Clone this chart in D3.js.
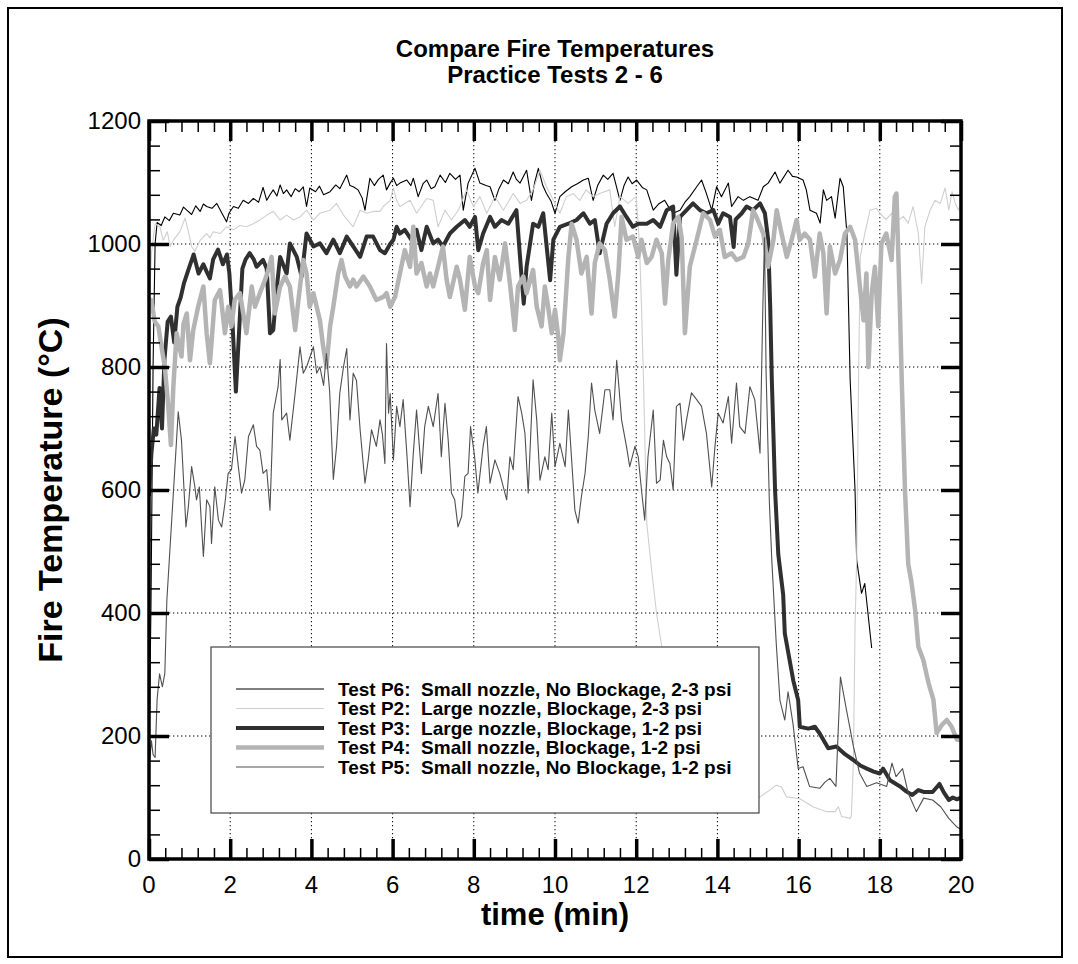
<!DOCTYPE html>
<html>
<head>
<meta charset="utf-8">
<script src="https://cdn.jsdelivr.net/npm/d3@7"></script>
<style>
  body { margin: 0; background: #fff; }
  text { font-family: "Liberation Sans", Arial, Helvetica, sans-serif; }
</style>
</head>
<body>
<div id="chart"></div>
<script>
// ---- data: [time (min), temperature (°C)] ----
var p6 = [[0,160],[0.05,420],[0.1,800],[0.15,1000],[0.2,1035],[0.3,1030],[0.39,1044],[0.5,1038],[0.6,1050],[0.76,1047],[0.85,1060],[0.93,1055],[1.05,1048],[1.15,1062],[1.26,1053],[1.34,1065],[1.42,1061],[1.55,1058],[1.67,1066],[1.78,1052],[1.91,1036],[1.97,1050],[2.08,1061],[2.2,1058],[2.32,1071],[2.45,1066],[2.57,1074],[2.7,1068],[2.81,1092],[2.9,1071],[2.98,1080],[3.06,1088],[3.15,1078],[3.23,1096],[3.31,1082],[3.39,1088],[3.5,1077],[3.6,1090],[3.7,1085],[3.8,1093],[3.88,1061],[3.96,1091],[4.1,1085],[4.2,1094],[4.3,1080],[4.46,1085],[4.6,1096],[4.7,1090],[4.87,1112],[4.95,1095],[5.03,1093],[5.15,1088],[5.25,1075],[5.32,1055],[5.44,1107],[5.55,1095],[5.65,1105],[5.77,1112],[5.85,1088],[5.94,1099],[6.02,1107],[6.1,1095],[6.18,1099],[6.35,1104],[6.45,1095],[6.51,1107],[6.63,1077],[6.75,1098],[6.84,1104],[6.95,1090],[7.04,1093],[7.17,1112],[7.3,1100],[7.41,1115],[7.55,1105],[7.66,1112],[7.74,1055],[7.86,1099],[8.03,1123],[8.15,1099],[8.3,1095],[8.4,1093],[8.52,1071],[8.62,1090],[8.73,1104],[8.85,1098],[8.97,1117],[9.05,1105],[9.14,1099],[9.3,1120],[9.42,1071],[9.5,1100],[9.59,1123],[9.7,1095],[9.79,1082],[9.9,1070],[10.0,1050],[10.12,1077],[10.25,1085],[10.41,1093],[10.55,1098],[10.7,1104],[10.82,1107],[10.94,1071],[11.05,1095],[11.19,1112],[11.3,1105],[11.43,1115],[11.6,1071],[11.7,1095],[11.8,1109],[11.9,1098],[12.01,1104],[12.15,1092],[12.26,1088],[12.42,1055],[12.55,1065],[12.7,1071],[12.8,1060],[12.91,1050],[13.08,1055],[13.2,1068],[13.32,1077],[13.49,1093],[13.61,1104],[13.73,1082],[13.86,1055],[13.98,1093],[14.1,1077],[14.27,1099],[14.35,1061],[14.51,1077],[14.64,1071],[14.8,1077],[15.0,1071],[15.13,1093],[15.25,1099],[15.42,1117],[15.54,1099],[15.74,1120],[15.85,1110],[15.95,1109],[16.11,1104],[16.19,1088],[16.28,1055],[16.44,1050],[16.53,1034],[16.61,1088],[16.69,1071],[16.81,1077],[16.9,1042],[17.02,1107],[17.1,1093],[17.19,1017],[17.27,779],[17.39,600],[17.43,486],[17.55,432],[17.63,448],[17.8,343]];

var p2 = [[0,880],[0.06,985],[0.15,1033],[0.27,1028],[0.35,1006],[0.45,1020],[0.52,996],[0.6,1006],[0.76,1020],[0.89,1042],[0.97,1020],[1.05,996],[1.13,988],[1.26,1006],[1.42,1017],[1.5,1010],[1.58,1020],[1.75,1017],[1.91,1028],[2.08,1023],[2.24,1030],[2.4,1028],[2.57,1033],[2.73,1039],[2.9,1047],[3.06,1053],[3.23,1039],[3.39,1047],[3.56,1039],[3.72,1044],[3.88,1055],[4.05,1039],[4.21,1050],[4.46,1055],[4.62,1066],[4.79,1047],[5.03,1028],[5.2,1055],[5.36,1050],[5.52,1053],[5.69,1053],[5.77,1061],[5.94,1071],[6.02,1091],[6.1,1071],[6.18,1061],[6.43,1071],[6.59,1050],[6.84,1074],[7.0,1071],[7.12,1028],[7.29,1055],[7.45,1039],[7.62,1055],[7.82,1088],[7.99,1061],[8.15,1077],[8.32,1050],[8.52,1077],[8.73,1055],[8.97,1082],[9.14,1066],[9.3,1071],[9.46,1088],[9.63,1120],[9.79,1093],[9.96,1071],[10.12,1050],[10.28,1077],[10.45,1082],[10.61,1071],[10.77,1088],[10.94,1077],[11.1,1082],[11.35,1088],[11.47,1028],[11.6,1077],[11.8,1066],[12.0,1077],[12.08,1000],[12.13,900],[12.18,779],[12.26,546],[12.38,470],[12.5,400],[12.63,345],[12.8,260],[13.0,190],[13.3,140],[13.7,120],[14.2,110],[14.6,105],[15.05,101],[15.29,112],[15.45,120],[15.58,117],[15.7,101],[16.03,98],[16.35,85],[16.69,77],[16.9,77],[16.98,85],[17.06,69],[17.27,66],[17.3,70],[17.35,161],[17.39,378],[17.43,486],[17.48,800],[17.52,980],[17.63,1017],[17.76,1055],[17.92,1058],[18.0,1050],[18.15,1040],[18.3,1050],[18.45,1038],[18.58,1045],[18.7,1034],[18.82,1061],[18.95,1017],[19.03,936],[19.11,1028],[19.24,1055],[19.36,1071],[19.49,1066],[19.61,1091],[19.7,1055],[19.78,1085],[19.86,1066],[19.94,1055],[20.0,1066]];

var p3 = [[0,590],[0.06,660],[0.12,700],[0.18,690],[0.26,766],[0.32,700],[0.38,812],[0.46,874],[0.54,882],[0.62,840],[0.7,898],[0.78,913],[0.86,936],[0.98,960],[1.1,983],[1.22,952],[1.34,967],[1.42,955],[1.5,944],[1.58,975],[1.7,991],[1.82,967],[1.92,983],[1.98,952],[2.06,867],[2.14,760],[2.22,859],[2.3,960],[2.38,975],[2.48,985],[2.58,975],[2.65,963],[2.81,974],[2.9,960],[2.98,855],[3.06,860],[3.15,931],[3.23,979],[3.39,952],[3.47,1001],[3.64,979],[3.76,947],[3.88,1017],[4.05,996],[4.21,1001],[4.37,985],[4.54,1007],[4.7,985],[4.87,1012],[5.03,996],[5.2,979],[5.36,1012],[5.52,1012],[5.69,990],[5.81,985],[5.94,1000],[6.02,1007],[6.1,1028],[6.18,1017],[6.3,1023],[6.46,1007],[6.59,1023],[6.71,990],[6.84,1028],[7.0,1001],[7.12,1007],[7.24,996],[7.41,1017],[7.58,1028],[7.78,1039],[7.9,1028],[8.03,1044],[8.11,990],[8.23,1017],[8.4,1044],[8.52,1028],[8.68,1039],[8.85,1033],[9.05,1055],[9.17,952],[9.23,903],[9.3,963],[9.46,1033],[9.59,1028],[9.71,1050],[9.88,941],[9.96,1007],[10.12,1028],[10.33,1033],[10.53,1039],[10.7,1050],[10.86,1033],[10.98,1039],[11.1,985],[11.27,1033],[11.43,1050],[11.6,1061],[11.76,1044],[11.92,1028],[12.05,1033],[12.26,1033],[12.42,1039],[12.59,1028],[12.75,1055],[12.91,1061],[12.99,950],[13.08,1044],[13.24,1055],[13.4,1066],[13.57,1055],[13.73,1050],[13.9,1055],[14.02,1033],[14.14,1050],[14.31,1044],[14.4,995],[14.45,1040],[14.6,1050],[14.72,1061],[14.88,1055],[15.05,1066],[15.17,1050],[15.25,1007],[15.3,900],[15.34,780],[15.42,600],[15.5,495],[15.62,430],[15.66,367],[15.87,290],[15.99,258],[16.03,215],[16.24,212],[16.4,215],[16.52,204],[16.73,180],[16.93,183],[17.15,170],[17.35,161],[17.52,152],[17.68,147],[17.85,142],[18.0,139],[18.08,147],[18.25,128],[18.5,118],[18.65,110],[18.8,104],[18.95,112],[19.08,109],[19.3,109],[19.47,122],[19.58,108],[19.7,96],[19.8,100],[19.9,97],[20.0,100]];

var p4 = [[0,900],[0.06,909],[0.14,874],[0.23,866],[0.3,836],[0.39,800],[0.47,740],[0.54,673],[0.6,768],[0.68,855],[0.8,817],[0.85,870],[0.93,887],[1.01,811],[1.09,860],[1.21,898],[1.34,931],[1.42,855],[1.5,806],[1.62,909],[1.75,925],[1.87,855],[1.95,898],[2.03,866],[2.11,909],[2.24,920],[2.4,855],[2.53,931],[2.61,898],[2.73,920],[2.86,942],[2.94,958],[3.02,979],[3.1,887],[3.23,931],[3.35,947],[3.47,931],[3.6,860],[3.68,909],[3.8,974],[3.88,952],[3.96,898],[4.05,920],[4.13,898],[4.21,876],[4.29,833],[4.37,800],[4.46,866],[4.54,898],[4.66,952],[4.74,974],[4.83,947],[4.95,931],[5.03,942],[5.11,931],[5.28,947],[5.44,931],[5.6,909],[5.77,914],[5.85,920],[5.94,898],[6.06,914],[6.18,952],[6.3,990],[6.43,963],[6.51,1028],[6.59,952],[6.71,969],[6.84,931],[6.92,952],[7.0,931],[7.12,963],[7.24,996],[7.33,942],[7.41,914],[7.58,963],[7.66,942],[7.78,893],[7.9,979],[8.03,931],[8.11,920],[8.23,969],[8.32,990],[8.4,909],[8.52,979],[8.64,942],[8.77,1001],[8.89,936],[9.01,860],[9.09,931],[9.22,947],[9.3,920],[9.46,958],[9.55,898],[9.67,866],[9.75,931],[9.83,898],[9.92,855],[10.0,893],[10.08,849],[10.12,811],[10.21,855],[10.33,979],[10.41,1033],[10.53,1007],[10.65,952],[10.78,979],[10.9,887],[10.98,969],[11.1,1001],[11.23,990],[11.35,942],[11.47,882],[11.56,952],[11.64,1044],[11.76,1007],[11.92,1012],[12.05,979],[12.13,1007],[12.26,969],[12.38,979],[12.5,1007],[12.63,985],[12.71,903],[12.79,974],[12.91,1033],[13.04,1044],[13.12,1010],[13.2,855],[13.32,963],[13.49,1007],[13.65,1050],[13.82,1039],[13.94,1012],[14.06,1023],[14.18,979],[14.35,985],[14.47,974],[14.64,979],[14.76,1001],[14.88,1055],[14.96,1044],[15.13,1017],[15.25,963],[15.38,1007],[15.46,1055],[15.58,1017],[15.71,979],[15.83,1007],[15.95,1039],[16.03,1007],[16.15,1017],[16.28,1007],[16.4,947],[16.52,1017],[16.61,985],[16.69,887],[16.77,996],[16.9,952],[17.02,974],[17.14,1017],[17.27,1028],[17.39,1007],[17.51,931],[17.6,876],[17.67,952],[17.72,800],[17.8,920],[17.88,963],[17.96,866],[18.04,1001],[18.16,1017],[18.29,974],[18.37,1077],[18.41,1082],[18.49,909],[18.54,779],[18.62,600],[18.7,480],[18.78,450],[18.87,405],[18.95,345],[19.07,324],[19.2,286],[19.32,259],[19.4,205],[19.53,218],[19.65,226],[19.77,215],[19.9,194],[20.0,194]];

var p5 = [[0,150],[0.06,192],[0.1,170],[0.15,165],[0.2,260],[0.26,301],[0.33,280],[0.39,302],[0.44,421],[0.52,508],[0.62,617],[0.72,727],[0.8,681],[0.91,540],[0.97,573],[1.05,638],[1.13,605],[1.17,584],[1.24,605],[1.3,535],[1.34,492],[1.42,584],[1.5,573],[1.54,513],[1.62,605],[1.71,551],[1.79,540],[1.87,578],[1.95,627],[2.03,633],[2.12,687],[2.2,638],[2.28,595],[2.36,617],[2.45,687],[2.57,706],[2.65,671],[2.73,665],[2.81,627],[2.9,633],[2.98,567],[3.06,725],[3.18,768],[3.23,812],[3.27,714],[3.39,725],[3.47,681],[3.6,758],[3.72,833],[3.8,790],[3.88,800],[4.05,833],[4.13,790],[4.21,800],[4.3,770],[4.37,822],[4.45,760],[4.54,617],[4.62,671],[4.7,758],[4.79,800],[4.87,830],[4.95,714],[5.03,790],[5.11,778],[5.2,698],[5.32,611],[5.4,649],[5.48,698],[5.6,671],[5.69,714],[5.75,690],[5.81,643],[5.85,838],[5.9,725],[5.94,757],[6.02,649],[6.1,736],[6.18,703],[6.26,747],[6.35,660],[6.43,573],[6.51,660],[6.59,730],[6.71,627],[6.79,703],[6.88,736],[7.0,703],[7.12,757],[7.2,654],[7.29,741],[7.37,681],[7.45,595],[7.53,584],[7.61,540],[7.7,557],[7.78,622],[7.86,627],[7.92,703],[8.02,654],[8.1,595],[8.23,671],[8.31,703],[8.4,611],[8.52,649],[8.64,627],[8.81,584],[8.89,654],[8.97,633],[9.09,752],[9.18,725],[9.26,692],[9.34,595],[9.46,779],[9.55,714],[9.63,616],[9.75,654],[9.83,633],[9.92,725],[10.0,638],[10.12,676],[10.25,638],[10.33,730],[10.41,649],[10.49,567],[10.57,546],[10.65,589],[10.74,627],[10.82,687],[10.9,774],[10.98,730],[11.1,692],[11.23,763],[11.35,763],[11.43,714],[11.52,811],[11.56,779],[11.64,714],[11.76,671],[11.84,638],[11.97,671],[12.05,654],[12.13,600],[12.21,551],[12.29,654],[12.42,730],[12.5,611],[12.59,616],[12.67,681],[12.75,654],[12.83,643],[12.91,600],[12.99,736],[13.08,741],[13.16,681],[13.24,714],[13.36,758],[13.49,747],[13.61,736],[13.73,692],[13.86,605],[13.94,671],[14.02,725],[14.14,709],[14.27,752],[14.35,676],[14.47,774],[14.55,703],[14.68,692],[14.8,768],[14.92,747],[15.05,660],[15.12,900],[15.16,1010],[15.2,790],[15.28,580],[15.34,486],[15.45,350],[15.54,258],[15.66,226],[15.74,272],[15.86,221],[15.99,147],[16.11,150],[16.27,118],[16.52,115],[16.65,125],[16.77,131],[16.92,118],[17.03,296],[17.18,242],[17.35,183],[17.5,140],[17.68,118],[17.92,124],[18.17,118],[18.3,156],[18.4,134],[18.56,147],[18.7,107],[18.9,77],[19.08,99],[19.3,96],[19.5,85],[19.7,66],[19.9,52],[20.0,48]];

var seriesLabels = [
  "Test P6:  Small nozzle, No Blockage, 2-3 psi",
  "Test P2:  Large nozzle, Blockage, 2-3 psi",
  "Test P3:  Large nozzle, Blockage, 1-2 psi",
  "Test P4:  Small nozzle, Blockage, 1-2 psi",
  "Test P5:  Small nozzle, No Blockage, 1-2 psi"
];
var seriesData = [p6, p2, p3, p4, p5];

var xMajor = d3.range(0, 20.001, 2);
var yMajor = d3.range(0, 1200.1, 200);
var xMinor = d3.range(0, 20.001, 0.4);
var yMinor = d3.range(0, 1200.1, 40);

// styles for each series (same order as the labels)
var colors = ["#000000", "#cfcfcf", "#303030", "#b4b4b4", "#505050"];
var widths = [1.1, 1.1, 4, 4.5, 1.1];

// ---- layout ----
var W = 1078, H = 964;
var pL = 149, pR = 961, pT = 121, pB = 859;

var svg = d3.select("#chart").append("svg")
  .attr("width", W)
  .attr("height", H);

// outer frame
svg.append("rect")
  .attr("x", 8).attr("y", 8)
  .attr("width", 1054).attr("height", 949)
  .attr("fill", "none").attr("stroke", "#000").attr("stroke-width", 2);

var xScale = d3.scaleLinear().domain([0, 20]).range([pL, pR]);
var yScale = d3.scaleLinear().domain([0, 1200]).range([pB, pT]);

svg.append("defs").append("clipPath").attr("id", "plotclip")
  .append("rect")
  .attr("x", pL).attr("y", pT)
  .attr("width", pR - pL).attr("height", pB - pT);

// dotted grid
var grid = svg.append("g").attr("class", "grid");
grid.selectAll(".gx")
  .data(xMajor.filter(function(d) { return d > 0 && d < 20; }))
  .enter().append("line")
  .attr("x1", function(d) { return xScale(d); })
  .attr("x2", function(d) { return xScale(d); })
  .attr("y1", pT).attr("y2", pB)
  .attr("stroke", "#000").attr("stroke-width", 1)
  .attr("stroke-dasharray", "1.3,2.7");
grid.selectAll(".gy")
  .data(yMajor.filter(function(d) { return d > 0 && d < 1200; }))
  .enter().append("line")
  .attr("y1", function(d) { return yScale(d); })
  .attr("y2", function(d) { return yScale(d); })
  .attr("x1", pL).attr("x2", pR)
  .attr("stroke", "#000").attr("stroke-width", 1)
  .attr("stroke-dasharray", "1.3,2.7");

// data lines
var line = d3.line()
  .x(function(d) { return xScale(d[0]); })
  .y(function(d) { return yScale(d[1]); });

svg.append("g").attr("clip-path", "url(#plotclip)")
  .selectAll("path")
  .data(seriesData)
  .enter().append("path")
  .attr("d", line)
  .attr("fill", "none")
  .attr("stroke", function(d, i) { return colors[i]; })
  .attr("stroke-width", function(d, i) { return widths[i]; })
  .attr("stroke-linejoin", "round");

// ticks on all four sides, pointing inward
function styleTicks(g, w) {
  g.select(".domain").remove();
  g.selectAll(".tick line").attr("stroke", "#000").attr("stroke-width", w);
}
function onlyMinor(arr, majors) {
  return arr.filter(function(v) {
    return !majors.some(function(m) { return Math.abs(m - v) < 1e-6; });
  });
}
var xMinorOnly = onlyMinor(xMinor, xMajor);
var yMinorOnly = onlyMinor(yMinor, yMajor);

[[d3.axisBottom, pB], [d3.axisTop, pT]].forEach(function(a) {
  svg.append("g").attr("transform", "translate(0," + a[1] + ")")
    .call(a[0](xScale).tickValues(xMinorOnly).tickSize(-11).tickFormat(""))
    .call(styleTicks, 1.5);
  svg.append("g").attr("transform", "translate(0," + a[1] + ")")
    .call(a[0](xScale).tickValues(xMajor).tickSize(-20).tickFormat(""))
    .call(styleTicks, 3.5);
});
[[d3.axisLeft, pL], [d3.axisRight, pR]].forEach(function(a) {
  svg.append("g").attr("transform", "translate(" + a[1] + ",0)")
    .call(a[0](yScale).tickValues(yMinorOnly).tickSize(-11).tickFormat(""))
    .call(styleTicks, 1.5);
  svg.append("g").attr("transform", "translate(" + a[1] + ",0)")
    .call(a[0](yScale).tickValues(yMajor).tickSize(-20).tickFormat(""))
    .call(styleTicks, 3.5);
});

// plot frame
svg.append("rect")
  .attr("x", pL).attr("y", pT)
  .attr("width", pR - pL).attr("height", pB - pT)
  .attr("fill", "none").attr("stroke", "#000").attr("stroke-width", 3.5);

// tick labels
svg.append("g").selectAll("text")
  .data(xMajor).enter().append("text")
  .attr("x", function(d) { return xScale(d); })
  .attr("y", pB + 34)
  .attr("text-anchor", "middle")
  .attr("font-size", 24)
  .text(function(d) { return d; });
svg.append("g").selectAll("text")
  .data(yMajor).enter().append("text")
  .attr("x", pL - 8)
  .attr("y", function(d) { return yScale(d) + 8; })
  .attr("text-anchor", "end")
  .attr("font-size", 24)
  .text(function(d) { return d; });

// titles
svg.append("text")
  .attr("x", (pL + pR) / 2).attr("y", 57)
  .attr("text-anchor", "middle").attr("font-size", 24).attr("font-weight", "bold")
  .text("Compare Fire Temperatures");
svg.append("text")
  .attr("x", (pL + pR) / 2).attr("y", 83)
  .attr("text-anchor", "middle").attr("font-size", 24).attr("font-weight", "bold")
  .text("Practice Tests 2 - 6");
svg.append("text")
  .attr("x", (pL + pR) / 2).attr("y", 925)
  .attr("text-anchor", "middle").attr("font-size", 31).attr("font-weight", "bold")
  .text("time (min)");
svg.append("text")
  .attr("transform", "translate(62," + ((pT + pB) / 2) + ") rotate(-90)")
  .attr("text-anchor", "middle").attr("font-size", 34).attr("font-weight", "bold")
  .text("Fire Temperature (\u00B0C)");

// legend
var legend = svg.append("g");
legend.append("rect")
  .attr("x", 211).attr("y", 647)
  .attr("width", 548).attr("height", 166)
  .attr("fill", "#fff").attr("stroke", "#444").attr("stroke-width", 1.2);

var rows = legend.selectAll(".row")
  .data(seriesLabels).enter().append("g")
  .attr("transform", function(d, i) { return "translate(0," + (689 + i * 19.5) + ")"; });
rows.append("line")
  .attr("x1", 236).attr("x2", 324)
  .attr("stroke", function(d, i) { return colors[i]; })
  .attr("stroke-width", function(d, i) { return widths[i]; });
rows.append("text")
  .attr("x", 338).attr("y", 6.5)
  .attr("font-size", 19).attr("font-weight", "bold")
  .style("white-space", "pre")
  .text(function(d) { return d; });
</script>
</body>
</html>
